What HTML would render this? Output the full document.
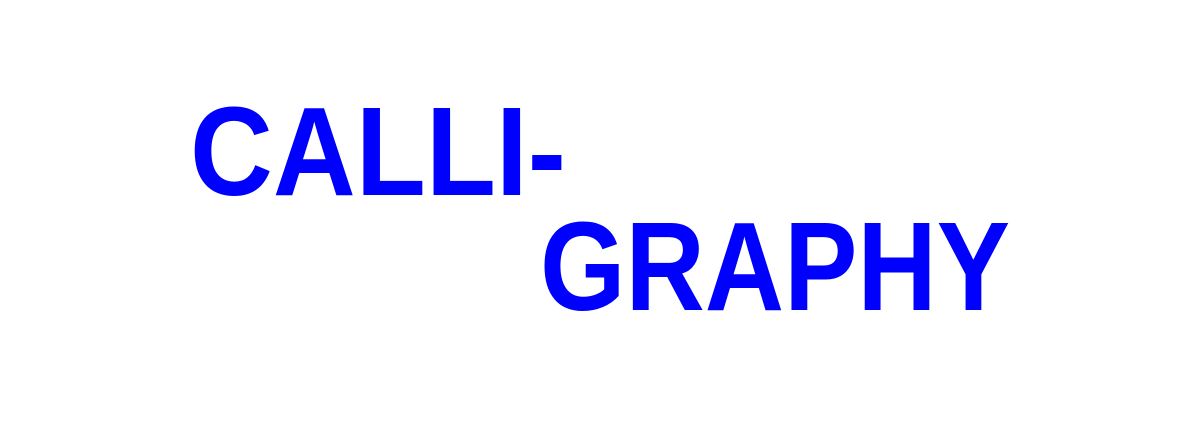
<!DOCTYPE html>
<html><head><meta charset="utf-8"><style>
html,body{margin:0;padding:0;background:#fff;width:1200px;height:425px;overflow:hidden}
svg{display:block}
text{font-family:"Liberation Sans",sans-serif;font-weight:bold;fill:#0000ff}
</style></head><body>
<svg width="1200" height="425" viewBox="0 0 1200 425">
<text x="190" y="195" font-size="126" textLength="376" lengthAdjust="spacingAndGlyphs">CALLI-</text>
<text x="540" y="310" font-size="126" textLength="470" lengthAdjust="spacingAndGlyphs">GRAPHY</text>
</svg>
</body></html>
